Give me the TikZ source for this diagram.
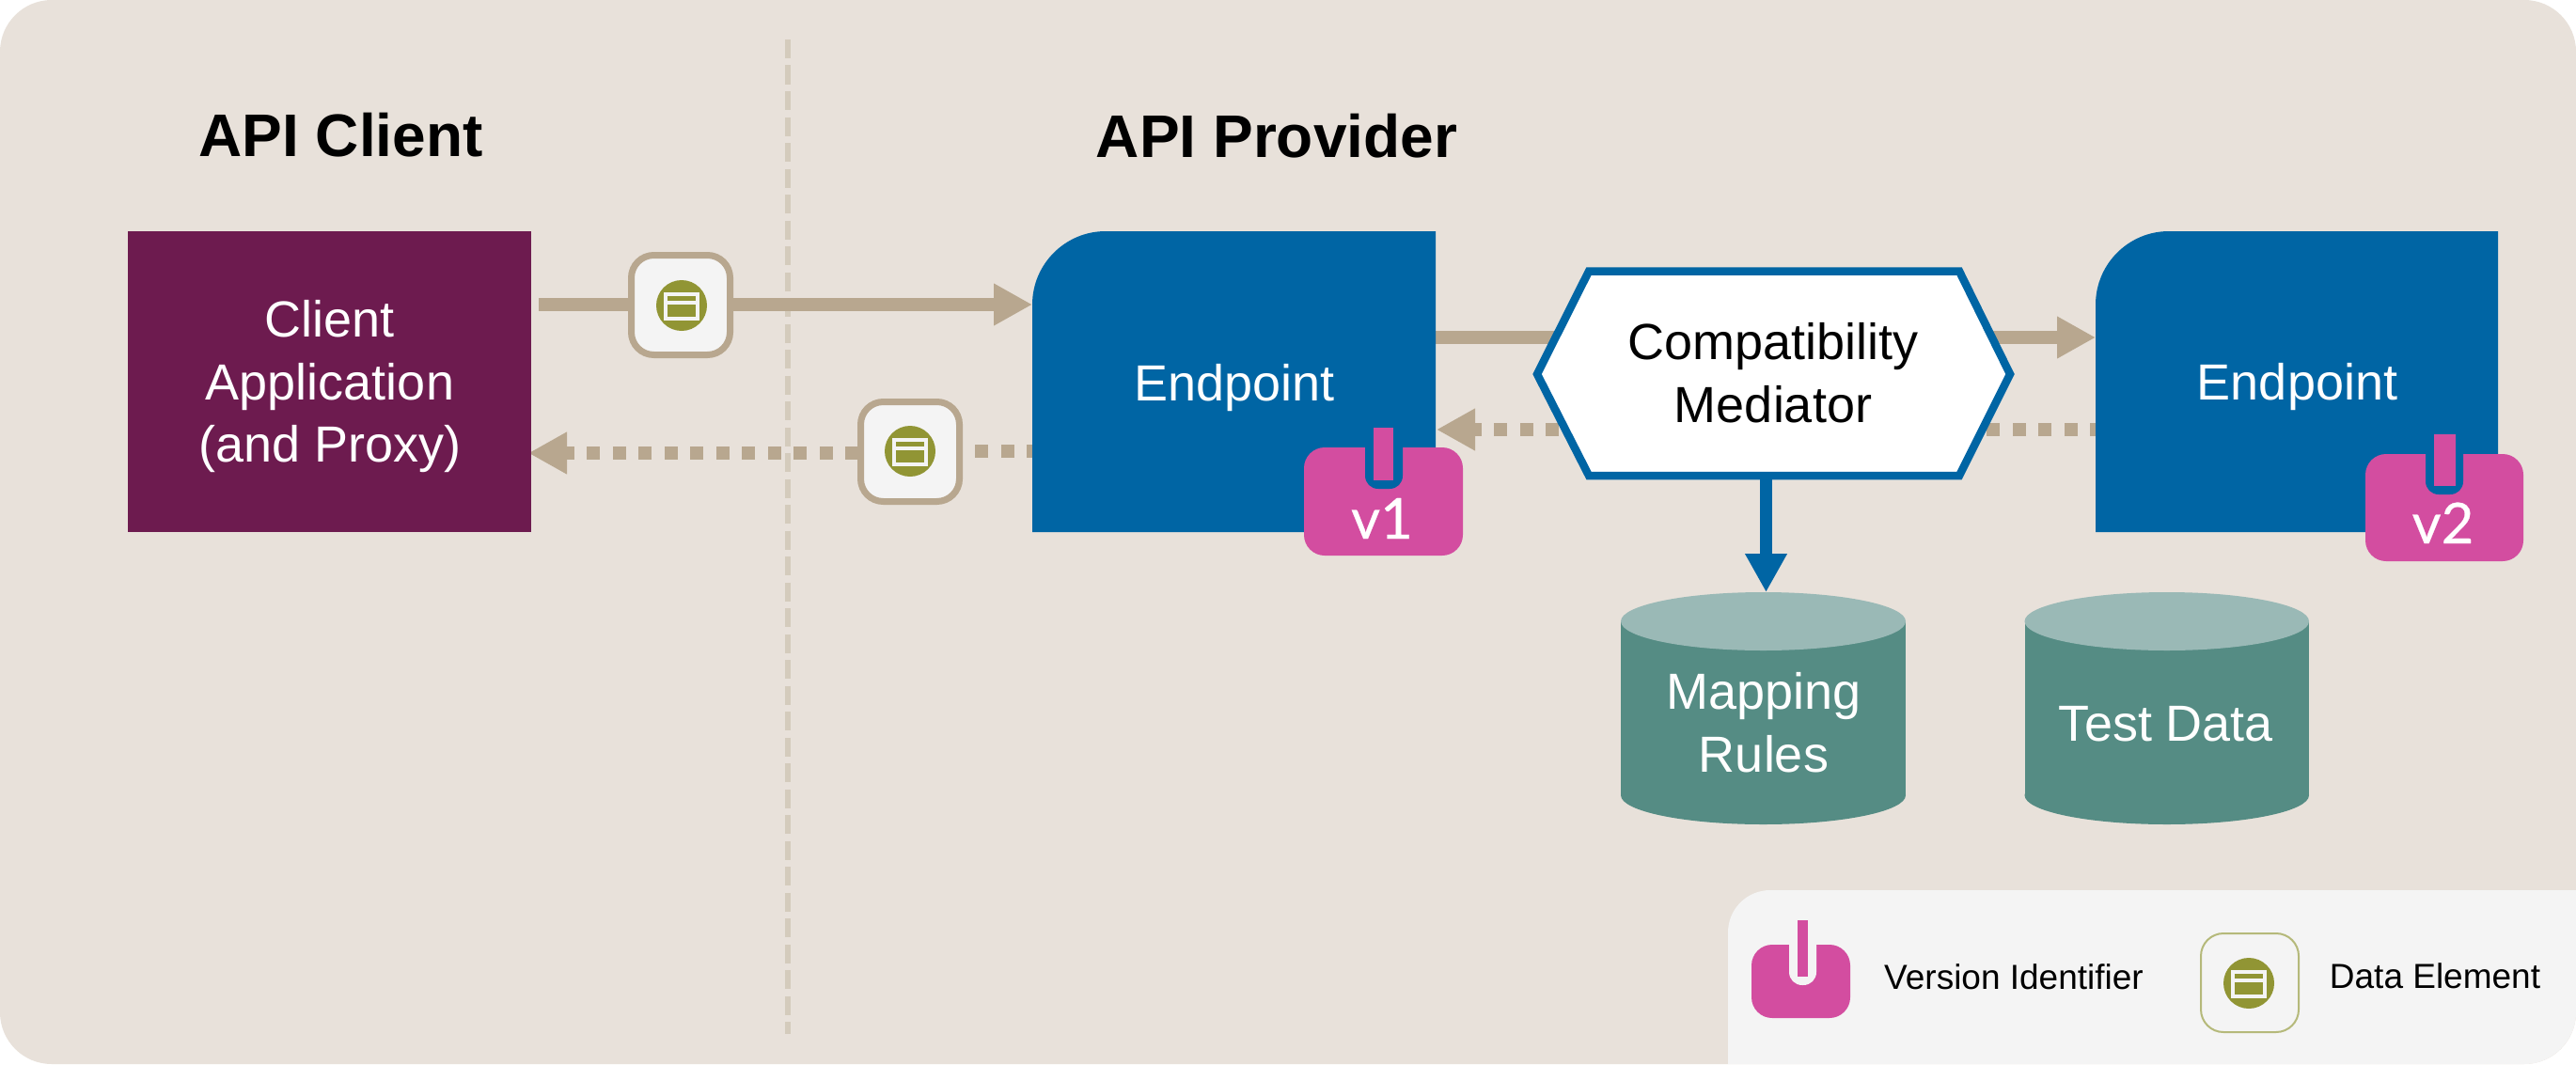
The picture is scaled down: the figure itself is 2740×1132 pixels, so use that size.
\documentclass[tikz,border=0pt]{standalone}
\usepackage{fontspec}
\setmainfont{Liberation Sans}
\newfontfamily\badgefont[FakeBold=0.4]{Lato}
\usetikzlibrary{arrows.meta}
\definecolor{bgc}{HTML}{E8E1DA}
\definecolor{tanc}{HTML}{B8A78F}
\definecolor{dashc}{HTML}{D4CBBC}
\definecolor{plum}{HTML}{6D1B4F}
\definecolor{blu}{HTML}{0065A4}
\definecolor{pinkc}{HTML}{D34DA0}
\definecolor{teal1}{HTML}{558C84}
\definecolor{teal2}{HTML}{9AB9B6}
\definecolor{panel}{HTML}{F4F4F4}
\definecolor{olive}{HTML}{919534}
\definecolor{legline}{HTML}{B5B97A}
\tikzset{
  x=1pt,y=-1pt,
  txt/.style={inner sep=0pt,outer sep=0pt,align=center},
  big/.style={txt,font=\fontsize{54}{66.5}\selectfont},
  wbig/.style={big,text=white},
  titletext/.style={txt,anchor=base,font=\fontsize{64}{70}\selectfont\bfseries},
  small/.style={txt,anchor=base,font=\fontsize{37}{40}\selectfont},
  vlabel/.style={txt,anchor=base,text=white,font=\fontsize{60}{64}\selectfont\badgefont},
  flow/.style={draw=tanc,line width=14pt},
  flowdash/.style={flow,dash pattern=on 14pt off 13.5pt},
  flowtip/.style={-{Triangle[length=41pt,width=42pt]}},
  tokenbox/.style={draw=tanc,fill=panel,line width=7pt,rounded corners=24pt,minimum width=105pt,minimum height=106pt,inner sep=0pt},
  legendbox/.style={draw=legline,fill=panel,line width=2pt,rounded corners=24pt,minimum width=104pt,minimum height=105pt,inner sep=0pt},
  clientbox/.style={fill=plum,minimum width=429pt,minimum height=320pt,inner sep=0pt,outer sep=0pt},
}
% #1 left, #2 right
\newcommand{\myendpoint}[2]{\fill[blu] (#1,566) -- (#1,324) .. controls (#1,281) and (#1+35,246) .. (#1+78,246) -- (#2,246) -- (#2,566) -- cycle;}
% #1 x0, #2 x1, #3 y0, #4 y1, #5 slot x0, #6 slot x1, #7 slot bottom, #8 slot colour
\newcommand{\mybadge}[8]{%
 \fill[pinkc,rounded corners=22pt] (#1,#3) rectangle (#2,#4);
 \fill[#8] (#5,#3-1) -- (#5,#7-14) .. controls (#5,#7-6) and (#5+6,#7) .. (#5+14,#7) -- (#6-14,#7) .. controls (#6-6,#7) and (#6,#7-6) .. (#6,#7-14) -- (#6,#3-1) -- cycle;
}
\newcommand{\mytoken}[2]{%
 \fill[olive] (#1,#2) circle[radius=27];
 \draw[panel,line width=3.2pt] (#1-17,#2-12) rectangle (#1+17,#2+14) (#1-17,#2-3) -- (#1+17,#2-3);
}
\begin{document}
\begin{tikzpicture}
\useasboundingbox (0,0) rectangle (2740,1132);
\fill[bgc,rounded corners=55pt] (0,0) rectangle (2740,1132);
\coordinate (sepTop) at (838,42);
\coordinate (sepBot) at (838,1100);
\draw[dashc,line width=6pt,dash pattern=on 20pt off 7.5pt] (sepTop) -- (sepBot);

\node[titletext] (tclient) at (362.5,166) {API Client};
\node[titletext] (tprov) at (1358,167) {API Provider};

% named connector ends
\coordinate (a1s) at (573,324);
\coordinate (ep1w) at (1098,324);
\coordinate (ep1sw) at (1098,480);
\coordinate (t2e) at (1024,480);
\coordinate (t2w) at (913,482);
\coordinate (clientE) at (562,482);
\coordinate (ep1e) at (1527,359);
\coordinate (ep2w) at (2229,359);
\coordinate (ep2sw) at (2229,457);
\coordinate (hexE) at (2112,457);
\coordinate (hexW) at (1658,457);
\coordinate (ep1se) at (1528,457);
\coordinate (hexb) at (1878.5,510);
\coordinate (cyltop) at (1878.5,630);

\draw[flow,flowtip] (a1s) -- (ep1w);
\draw[flowdash,dash phase=8pt] (ep1sw) -- (t2e);
\draw[flowdash,flowtip] (t2w) -- (clientE);
\draw[flow,flowtip] (ep1e) -- (ep2w);
\draw[flowdash,dash phase=8pt] (ep2sw) -- (hexE);
\draw[flowdash,flowtip] (hexW) -- (ep1se);

% client
\node[clientbox] (client) at (350.5,406) {};
\node[wbig] (clientlabel) at (351,411.5) {Client\\Application\\(and Proxy)};

% tokens
\node[tokenbox] (tok1) at (724,324.5) {};
\mytoken{725}{325}
\node[tokenbox] (tok2) at (968,480.5) {};
\mytoken{968}{480}

% endpoints
\myendpoint{1098}{1527}
\node[wbig,anchor=base] (e1) at (1313,426) {Endpoint};
\mybadge{1387}{1556}{476}{591}{1452}{1492}{520}{blu}
\fill[pinkc] (1461,455) rectangle (1482,511);
\node[vlabel] (v1) at (1470,573) {v1};

\myendpoint{2229}{2657}
\node[wbig,anchor=base] (e2) at (2443.5,425) {Endpoint};
\mybadge{2516}{2684}{483}{597}{2580}{2620}{526}{blu}
\fill[pinkc] (2589,462) rectangle (2612,517);
\node[vlabel] (v2) at (2598.5,578) {v2};

% hexagon
\draw[blu,fill=white,line width=8.5pt,line join=miter] (1635,398) -- (1690,288.5) -- (2084,288.5) -- (2138,398) -- (2084,506) -- (1690,506) -- cycle;
\node[big] (mediator) at (1886,396.8) {Compatibility\\Mediator};

% cylinders
\foreach \xl/\xr in {1724/2027,2153.5/2456}{
  \fill[teal1] (\xl,661) rectangle (\xr,846);
  \fill[teal1] ({(\xl+\xr)/2},846) ellipse[x radius={(\xr-\xl)/2},y radius=31];
  \fill[teal2] ({(\xl+\xr)/2},661) ellipse[x radius={(\xr-\xl)/2},y radius=31];
}
\node[wbig] (rules) at (1876,768.7) {Mapping\\Rules};
\node[wbig,anchor=base] (d3) at (2304,788) {Test Data};

% blue arrow
\draw[blu,line width=13pt,-{Triangle[length=41pt,width=42pt]}] (hexb) -- (cyltop);

% legend
\fill[panel] (1838,1132) -- (1838,992) .. controls (1838,967) and (1858,947) .. (1883,947) -- (2740,947) -- (2740,1077) .. controls (2740,1107) and (2715,1132) .. (2685,1132) -- cycle;
\mybadge{1863}{1968}{1005}{1083}{1903}{1932}{1048}{panel}
\fill[pinkc] (1912,979) rectangle (1923,1039);
\node[small] (l1) at (2142,1052) {Version Identifier};
\node[legendbox] (legtok) at (2393,1045.5) {};
\mytoken{2392}{1046}
\node[small] (l2) at (2590,1051) {Data Element};
\end{tikzpicture}
\end{document}
